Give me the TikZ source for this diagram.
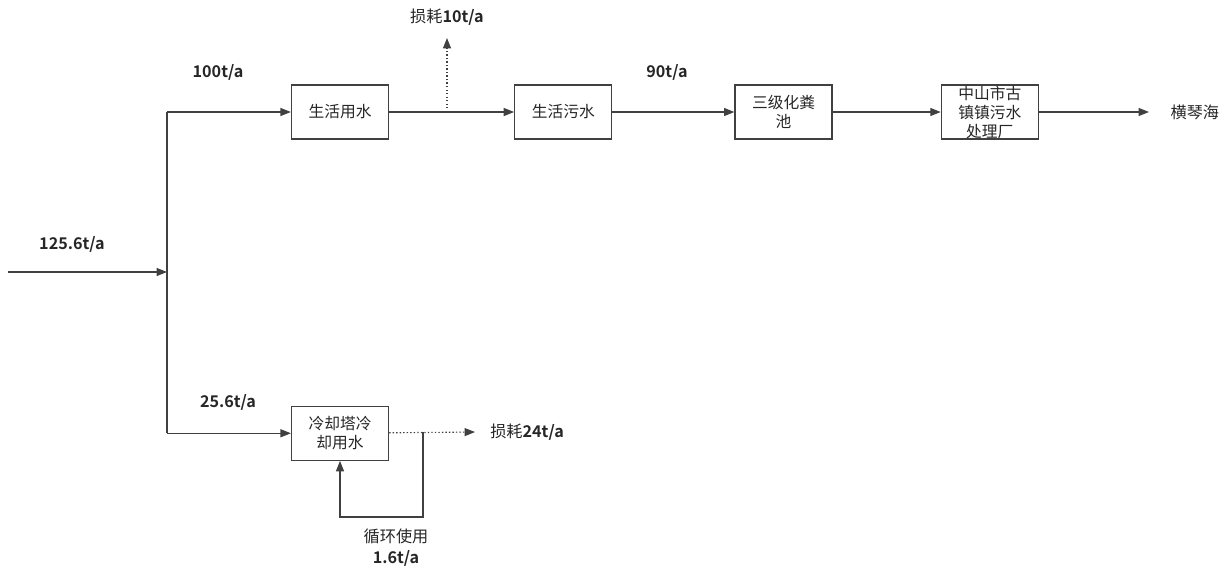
\documentclass[tikz,border=0pt]{standalone}
\usepackage{fontspec}
\setmainfont{Noto Sans CJK SC}[BoldFont={Noto Sans CJK SC Bold}]
\usepackage{tikz}
\usetikzlibrary{positioning,arrows.meta}
\definecolor{wline}{RGB}{64,64,64}
\definecolor{wtext}{RGB}{38,38,38}

\begin{document}
\begin{tikzpicture}[
    unit/.style={rectangle, draw=wline, line width=0.9pt, align=center, minimum width=2.425cm, minimum height=1.35cm, inner sep=0pt, font=\fontsize{11.2pt}{13.5pt}\selectfont, text=wtext},
    flow/.style={-{Triangle[length=2.6mm, width=2mm]}, line width=0.8pt, draw=wline},
    pipe/.style={line width=0.8pt, draw=wline},
    loss/.style={-{Triangle[length=2.6mm, width=2mm]}, line width=0.8pt, draw=wline, dash pattern=on 1pt off 1.5pt},
    lab/.style={font=\fontsize{11.5pt}{15pt}\selectfont, text=wtext, inner sep=1pt, align=center}
  ]
    \useasboundingbox (0,0) rectangle (30.75,-14.225);

    \node[unit] (use) at (8.5,-2.8) {生活用水};
    \node[unit, right=3.125cm of use] (sew) {生活污水};
    \node[unit, right=3.05cm of sew] (tank) {三级化粪\\池};
    \node[unit, right=2.7cm of tank] (plant) {中山市古\\镇镇污水\\处理厂};
    \node[lab, right=3.25cm of plant] (sea) {横琴海};
    \node[unit, below=6.65cm of use] (cool) {冷却塔冷\\却用水};

    \coordinate (src) at (0.2,-6.8);
    \coordinate (split) at (4.175,-6.8);
    \coordinate (lossA) at (11.175,-2.8);
    \coordinate (lossAend) at (11.175,-0.95);
    \coordinate (lossB) at (11.875,-10.8);
    \coordinate (loopA) at (10.575,-10.8);
    \coordinate (loopB) at (10.575,-12.925);

    \node[lab] (q100) at (5.45,-1.8) {\textbf{100t/a}};
    \node[lab] (q90) at (16.675,-1.8) {\textbf{90t/a}};
    \node[lab] (q125) at (1.8,-6.1) {\textbf{125.6t/a}};
    \node[lab] (q256) at (5.7,-10.05) {\textbf{25.6t/a}};
    \node[lab] (l10) at (11.175,-0.425) {损耗\textbf{10t/a}};
    \node[lab, right=0.34cm of lossB] (l24) {损耗\textbf{24t/a}};
    \node[lab] (l16) at (9.9,-13.69) {循环使用\\\textbf{1.6t/a}};

    \draw[flow] (src) -- (split);
    \draw[pipe] (split |- use) -- (split |- cool);
    \draw[flow] (split |- use) -- (use);
    \draw[flow] (split |- cool) -- (cool);
    \draw[flow] (use) -- (sew);
    \draw[loss] (lossA) -- (lossAend);
    \draw[flow] (sew) -- (tank);
    \draw[flow] (tank) -- (plant);
    \draw[flow] (plant) -- ([xshift=-0.5cm]sea.west);
    \draw[loss] (cool) -- (lossB);
    \draw[flow] (loopA) -- (loopB) -- (cool.south |- loopB) -- (cool.south);
  \end{tikzpicture}
\end{document}
